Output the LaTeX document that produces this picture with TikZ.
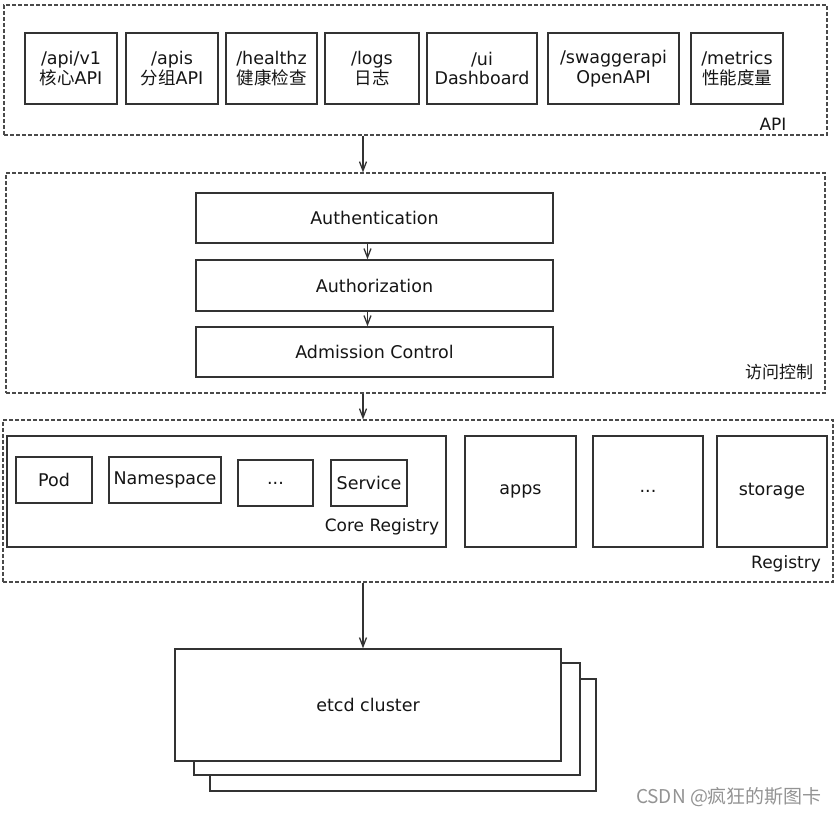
\documentclass[tikz,border=0pt]{standalone}
\usepackage{fontspec}
\setmainfont{DejaVu Sans}
\newfontfamily\cjk{Noto Sans CJK SC}
\usetikzlibrary{arrows.meta}
\definecolor{edge}{HTML}{333333}
\definecolor{dashc}{HTML}{4A4A4A}
\definecolor{ink}{HTML}{151515}
\tikzset{
  box/.style={draw=edge, line width=1.4pt, fill=white, inner sep=0pt, align=center,
    text=ink, font=\fontsize{17.5}{19.5}\selectfont},
  group/.style={draw=dashc, line width=1.2pt, dash pattern=on 4pt off 2pt, inner sep=0pt},
  tag/.style={text=ink, inner sep=0pt, font=\fontsize{17}{20}\selectfont},
  arr/.style={draw=edge, line width=1.3pt, -{Straight Barb[length=9pt,width=7pt]}},
}
\begin{document}
\begin{tikzpicture}[x=1pt, y=-1pt]
    \useasboundingbox (0,0) rectangle (839,816);

    % API group
    \node[group, minimum width=823, minimum height=130] (api) at (415.5,70) {};
    \node[box, minimum width=92, minimum height=71] (apiv1) at (71,68.5) {/api/v1\\{\cjk 核心}API};
    \node[box, minimum width=92, minimum height=71] (apis) at (172,68.5) {/apis\\{\cjk 分组}API};
    \node[box, minimum width=91, minimum height=71] (healthz) at (271.5,68.5) {/healthz\\{\cjk 健康检查}};
    \node[box, minimum width=94, minimum height=71] (logs) at (372,68.5) {/logs\\{\cjk 日志}};
    \node[box, minimum width=110, minimum height=71] (ui) at (482,68.5) {/ui\\Dashboard};
    \node[box, minimum width=131, minimum height=71] (swagger) at (613.5,68.5) {/swaggerapi\\OpenAPI};
    \node[box, minimum width=92, minimum height=71] (metrics) at (737,68.5) {/metrics\\{\cjk 性能度量}};
    \node[tag] (apitag) at (773,124) {API};

    % access control group
    \node[group, minimum width=819, minimum height=220] (access) at (415.5,283) {};
    \node[box, minimum width=357, minimum height=50] (authn) at (374.5,218) {Authentication};
    \node[box, minimum width=357, minimum height=51] (authz) at (374.5,285.5) {Authorization};
    \node[box, minimum width=357, minimum height=50] (admit) at (374.5,352) {Admission Control};
    \node[tag] (accesstag) at (779,372) {\cjk 访问控制};

    % registry group
    \node[group, minimum width=830, minimum height=162] (registry) at (418,501) {};
    \node[box, minimum width=439, minimum height=111] (core) at (226.5,491.5) {};
    \node[box, minimum width=76, minimum height=46] (pod) at (54,480) {Pod};
    \node[box, minimum width=112, minimum height=46] (ns) at (165,480) {Namespace};
    \node[box, minimum width=75, minimum height=46] (more) at (275.5,483) {...};
    \node[box, minimum width=76, minimum height=46] (svc) at (369,483) {Service};
    \node[tag] (coretag) at (382,527) {Core Registry};
    \node[box, minimum width=111, minimum height=111] (apps) at (520.5,491.5) {apps};
    \node[box, minimum width=110, minimum height=111] (groups) at (648,491.5) {...};
    \node[box, minimum width=110, minimum height=111] (storage) at (772,491.5) {storage};
    \node[tag] (registrytag) at (786,564) {Registry};

    % etcd stack
    \node[box, minimum width=386, minimum height=112] (etcdc) at (403,735) {};
    \node[box, minimum width=386, minimum height=112] (etcdb) at (387,719) {};
    \node[box, minimum width=386, minimum height=112] (etcd) at (368,705) {etcd cluster};

    % arrows
    \coordinate (axis) at (363,0);
    \draw[arr] (api.south -| axis) -- (access.north -| axis);
    \draw[arr] ([xshift=-7]authn.south) -- ([xshift=-7]authz.north);
    \draw[arr] ([xshift=-7]authz.south) -- ([xshift=-7]admit.north);
    \draw[arr] (access.south -| axis) -- (registry.north -| axis);
    \draw[arr] (registry.south -| axis) -- (etcd.north -| axis);

    \node[text=gray!85, inner sep=0pt, font=\fontsize{19}{22}\selectfont] (mark) at (729,797) {\cjk CSDN @疯狂的斯图卡};
\end{tikzpicture}
\end{document}
